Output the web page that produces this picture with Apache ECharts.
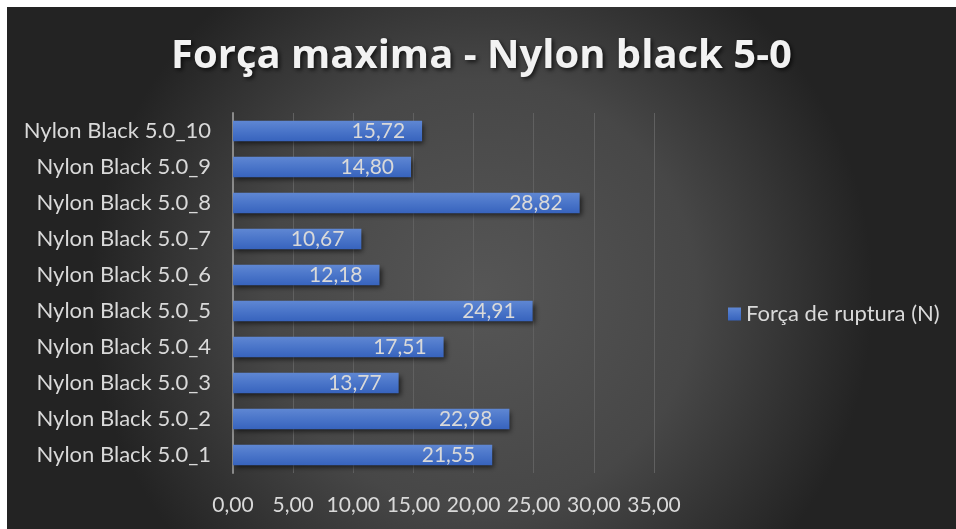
<!DOCTYPE html>
<html>
<head>
<meta charset="utf-8">
<script src="https://cdn.jsdelivr.net/npm/echarts@6/dist/echarts.min.js"></script>
<style>
html,body{margin:0;padding:0;background:#fff;width:956px;height:529px;overflow:hidden;}
#chart{position:absolute;left:7px;top:7px;width:949px;height:522px;}
</style>
</head>
<body>
<div id="chart"></div>
<script>
const titleText = 'Força maxima - Nylon black 5-0';
const seriesName = 'Força de ruptura (N)';
const categories = ['Nylon Black 5.0_1','Nylon Black 5.0_2','Nylon Black 5.0_3','Nylon Black 5.0_4','Nylon Black 5.0_5','Nylon Black 5.0_6','Nylon Black 5.0_7','Nylon Black 5.0_8','Nylon Black 5.0_9','Nylon Black 5.0_10'];
const values = [21.55,22.98,13.77,17.51,24.91,12.18,10.67,28.82,14.80,15.72];
const xMin = 0, xMax = 35, xStep = 5;

const fmt = v => Number(v).toFixed(2).replace('.', ',');
const FONT = 'Lato';
const TXT = '#d9d9d9';

const chart = echarts.init(document.getElementById('chart'));
chart.setOption({
  backgroundColor: {type:'radial', x:0.5, y:0.55, r:0.75,
    colorStops:[{offset:0,color:'#565656'},{offset:0.55,color:'#474747'},{offset:1,color:'#232323'}]},
  animation:false,
  title:{text:titleText, left:'center', top:25,
    textStyle:{color:'#f2f2f2', fontFamily:'Open Sans', fontWeight:'bold', fontSize:40,
      textShadowColor:'rgba(0,0,0,0.7)', textShadowBlur:4, textShadowOffsetX:2, textShadowOffsetY:2}},
  legend:{data:[seriesName], left:716, top:291, itemWidth:13, itemHeight:13, itemGap:6,
    icon:'rect', textStyle:{color:TXT, fontFamily:FONT, fontSize:22}},
  grid:{left:226, right:302, top:106, bottom:56, containLabel:false},
  xAxis:{type:'value', min:xMin, max:xMax, interval:xStep,
    axisLine:{show:false}, axisTick:{show:false},
    splitLine:{lineStyle:{color:'#606060', width:1}},
    axisLabel:{color:TXT, fontFamily:FONT, fontSize:21, margin:22, formatter:fmt}},
  yAxis:{type:'category', data:categories,
    axisLine:{show:true, lineStyle:{color:'#8a8a8a', width:2}}, axisTick:{show:false},
    axisLabel:{color:TXT, fontFamily:FONT, fontSize:22, margin:22}},
  series:[{name:seriesName, type:'bar', data:values, barWidth:'57%',
    itemStyle:{color:{type:'linear', x:0,y:0,x2:0,y2:1,
      colorStops:[{offset:0,color:'#5f87d3'},{offset:0.5,color:'#4a75c9'},{offset:1,color:'#3763bd'}]},
      shadowColor:'rgba(0,0,0,0.6)', shadowBlur:5, shadowOffsetX:2, shadowOffsetY:3},
    label:{show:true, position:'insideRight', distance:17, color:TXT, fontFamily:FONT, fontSize:21,
      formatter:p=>fmt(p.value)}}]
});
</script>
</body>
</html>
